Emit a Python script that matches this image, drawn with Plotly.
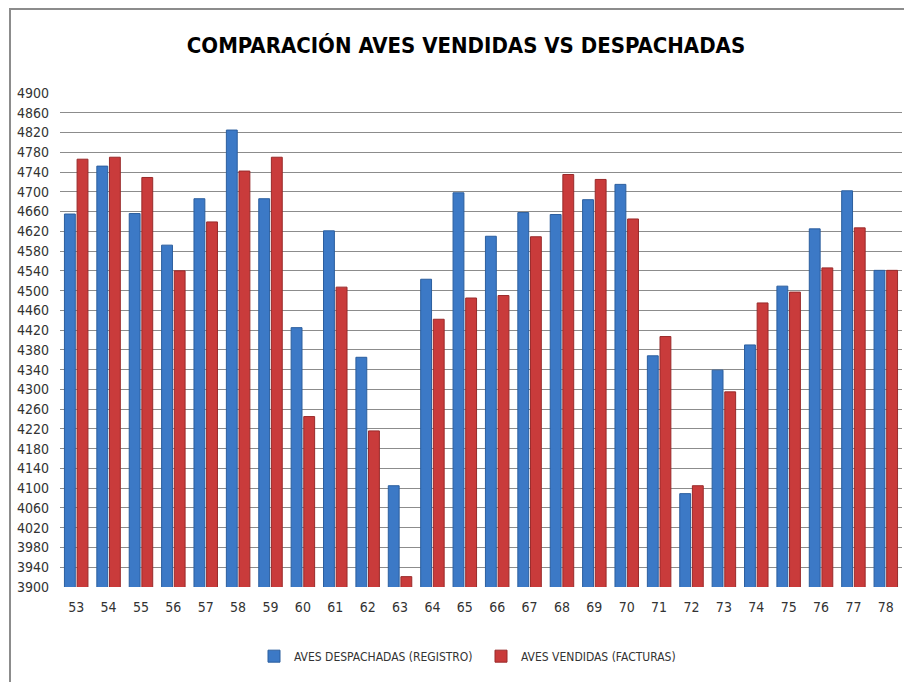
import plotly.graph_objects as go

categories = [str(c) for c in range(53, 79)]
despachadas = [4655, 4752, 4656, 4592, 4686, 4825, 4686, 4425, 4621, 4365, 4105, 4523, 4698,
               4610, 4658, 4654, 4684, 4715, 4368, 4089, 4339, 4390, 4509, 4625, 4702, 4541]
vendidas = [4766, 4770, 4729, 4540, 4639, 4742, 4770, 4245, 4507, 4216, 3921, 4442, 4485,
            4490, 4609, 4735, 4725, 4645, 4407, 4105, 4295, 4475, 4497, 4546, 4627, 4541]
y_ticks = list(range(3900, 4901, 40))

FONT = "DejaVu Sans Condensed, Liberation Sans Narrow, sans-serif"

fig = go.Figure()
fig.add_trace(go.Bar(
    x=categories, y=despachadas, name="AVES DESPACHADAS (REGISTRO)",
    marker=dict(color="#3C79C6", line=dict(color="#2B5E9E", width=1)),
))
fig.add_trace(go.Bar(
    x=categories, y=vendidas, name="AVES VENDIDAS (FACTURAS)",
    marker=dict(color="#C93B3B", line=dict(color="#992A2A", width=1)),
))

fig.update_layout(
    width=904, height=674,
    paper_bgcolor="white", plot_bgcolor="white",
    margin=dict(l=52, r=10, t=85, b=95),
    barmode="group", bargap=0.22, bargroupgap=0.14,
    font=dict(family=FONT, size=14, color="#333333"),
    title=dict(text="<b>COMPARACIÓN AVES VENDIDAS VS DESPACHADAS</b>",
               x=(466 - 8) / 904, xanchor="center", y=1 - (45 - 8) / 674, yanchor="middle",
               font=dict(family=FONT, size=22, color="black")),
    legend=dict(orientation="h", x=0.5, xanchor="center", y=-0.14, yanchor="middle",
                font=dict(family=FONT, size=12, color="#333333"),
                traceorder="normal", itemwidth=30, entrywidth=182),
    showlegend=True,
)
fig.update_yaxes(range=[3900, 4900], tickvals=y_ticks, ticktext=[str(v) for v in y_ticks],
                 showgrid=True, gridcolor="#8C8C8C", gridwidth=1, zeroline=False,
                 showline=False, ticklabelstandoff=10,
                 tickfont=dict(family=FONT, size=14, color="#333333"))
fig.update_xaxes(showgrid=False, showline=False, ticks="",
                 tickfont=dict(family=FONT, size=14, color="#333333"),
                 ticklabelstandoff=10)

# outer chart frame
fig.add_shape(type="rect", xref="paper", yref="paper",
              x0=-50 / 842, x1=920 / 842, y0=-100 / 494, y1=(587 - 9) / 494,
              line=dict(color="#8C8C8C", width=2), fillcolor="rgba(0,0,0,0)", layer="below")

fig.write_html("out.html")
